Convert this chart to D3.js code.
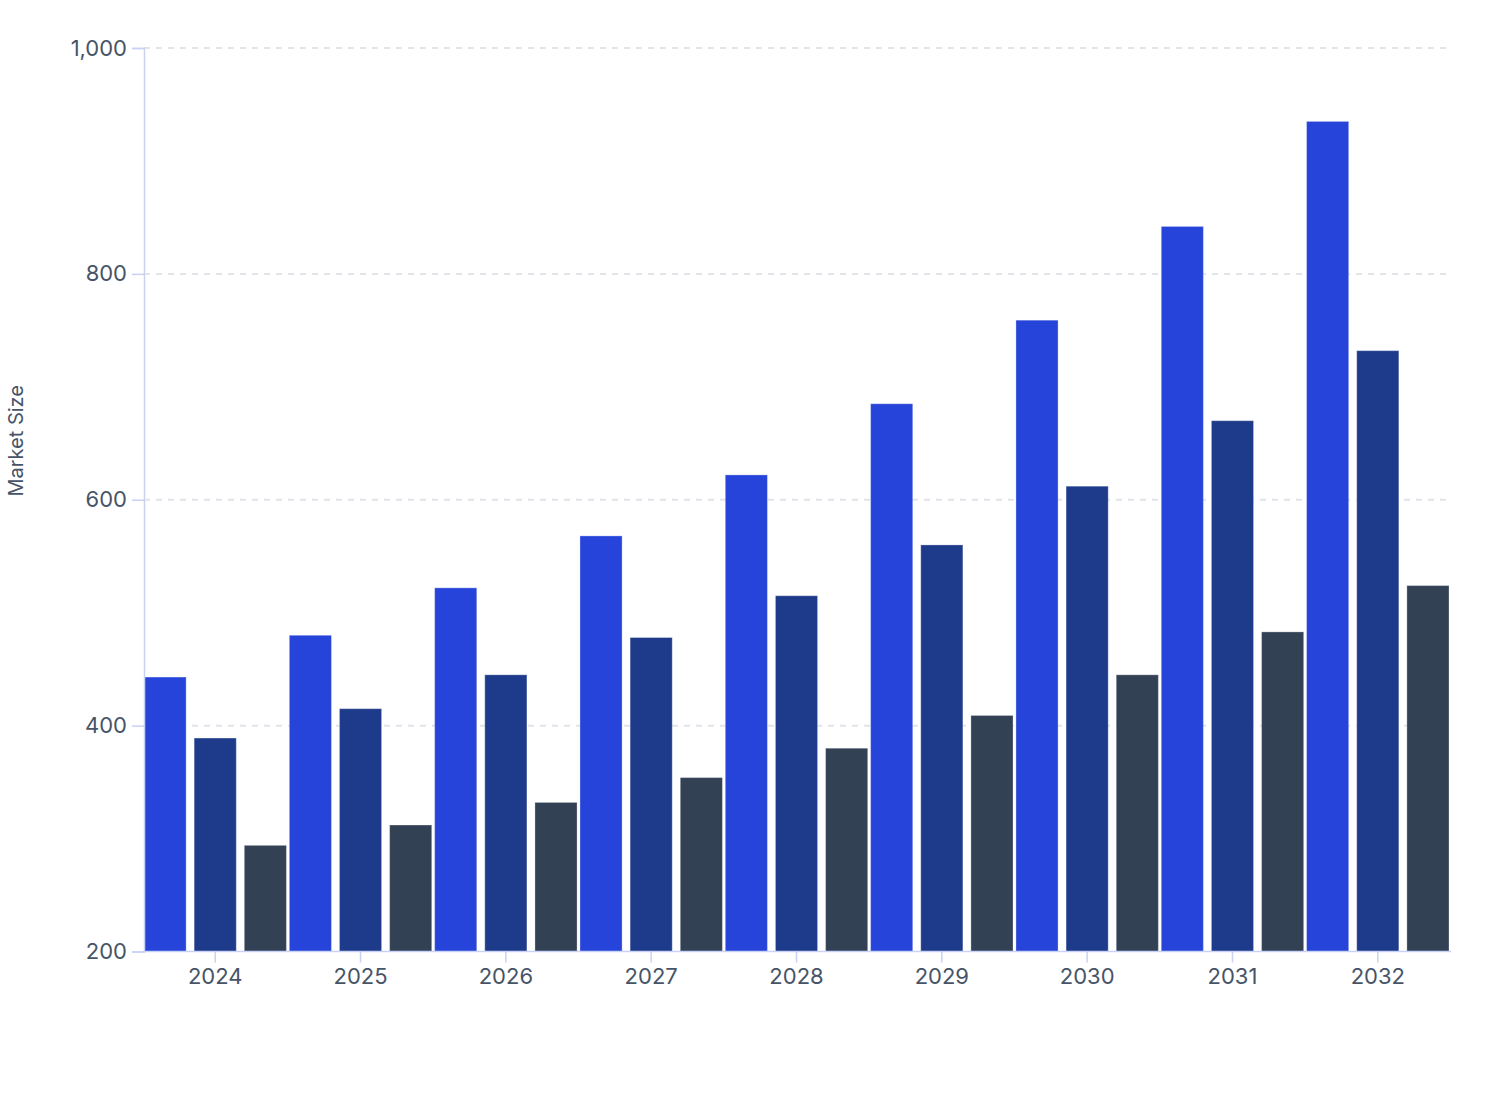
<!DOCTYPE html>
<html>
<head>
<meta charset="utf-8">
<script src="https://cdn.jsdelivr.net/npm/d3@7/dist/d3.min.js"></script>
<style>
  html, body { margin: 0; padding: 0; background: #ffffff; }
  svg { display: block; font-family: Inter, "Noto Sans", sans-serif; }
</style>
</head>
<body>
<svg id="chart" width="1508" height="1120"></svg>
<script>
const years = ["2024", "2025", "2026", "2027", "2028", "2029", "2030", "2031", "2032"];
const seriesNames = ["Series A", "Series B", "Series C"];
const seriesA = [443, 480, 522, 568, 622, 685, 759, 842, 935];
const seriesB = [389, 415, 445, 478, 515, 560, 612, 670, 732];
const seriesC = [294, 312, 332, 354, 380, 409, 445, 483, 524];
const yTicks = [200, 400, 600, 800, 1000];
const colors = ["#2644d9", "#1e3a8a", "#334155"];
const yTitle = "Market Size";

const allSeries = [seriesA, seriesB, seriesC];
const data = years.map((y, i) => ({ year: y, values: allSeries.map((s, k) => ({ key: seriesNames[k], value: s[i], idx: k })) }));

const svg = d3.select("#chart");
const margin = { top: 48, right: 59, bottom: 168.5, left: 144 };
const W = 1508, H = 1120;

const x0 = d3.scaleBand().domain(years).range([margin.left, W - margin.right]).paddingInner(0.02).paddingOuter(0);
const x1 = d3.scaleBand().domain(seriesNames).range([0, x0.bandwidth()]).paddingInner(0.16).paddingOuter(0);
const y = d3.scaleLinear().domain([200, 1000]).range([H - margin.bottom, margin.top]);

const textColor = "#475467";
const axisColor = "#c7d2f4";

// grid
svg.append("g").selectAll("line").data(yTicks.filter(t => t > 200)).join("line")
  .attr("x1", margin.left).attr("x2", W - margin.right + 2)
  .attr("y1", d => y(d)).attr("y2", d => y(d))
  .attr("stroke", "#e2e4ea").attr("stroke-width", 2).attr("stroke-dasharray", "6,6");

// bars
const groups = svg.append("g").selectAll("g").data(data).join("g")
  .attr("transform", d => `translate(${x0(d.year)},0)`);
groups.selectAll("rect").data(d => d.values).join("rect")
  .attr("x", d => x1(d.key))
  .attr("width", x1.bandwidth())
  .attr("y", d => y(d.value))
  .attr("height", d => y(200) - y(d.value))
  .attr("fill", d => colors[d.idx])
  .attr("stroke", "rgba(255,255,255,0.3)")
  .attr("stroke-width", 1);

// y axis
const yAxis = svg.append("g").attr("transform", `translate(${margin.left},0)`)
  .call(d3.axisLeft(y).tickValues(yTicks).tickSize(12).tickPadding(5).tickFormat(d3.format(",")));
yAxis.select(".domain").attr("stroke", axisColor).attr("stroke-width", 1.5);
yAxis.selectAll(".tick line").attr("stroke", axisColor).attr("stroke-width", 1.5);
yAxis.selectAll(".tick text").attr("fill", textColor).attr("font-size", 22).attr("font-family", "Inter, sans-serif");

// x axis
const xAxis = svg.append("g").attr("transform", `translate(0,${y(200)})`)
  .call(d3.axisBottom(x0).tickSize(11).tickPadding(6).tickSizeOuter(0));
xAxis.select(".domain").attr("stroke", axisColor).attr("stroke-width", 1.5)
  .attr("d", `M${margin.left},0H${W - margin.right + 2}`);
xAxis.selectAll(".tick line").attr("stroke", axisColor).attr("stroke-width", 1.5);
xAxis.selectAll(".tick text").attr("fill", textColor).attr("font-size", 22).attr("font-family", "Inter, sans-serif");

// y title
svg.append("text")
  .attr("transform", `translate(23,${(margin.top + H - margin.bottom) / 2 - 59}) rotate(-90)`)
  .attr("text-anchor", "middle")
  .attr("fill", textColor)
  .attr("font-size", 20)
  .text(yTitle);
</script>
</body>
</html>
